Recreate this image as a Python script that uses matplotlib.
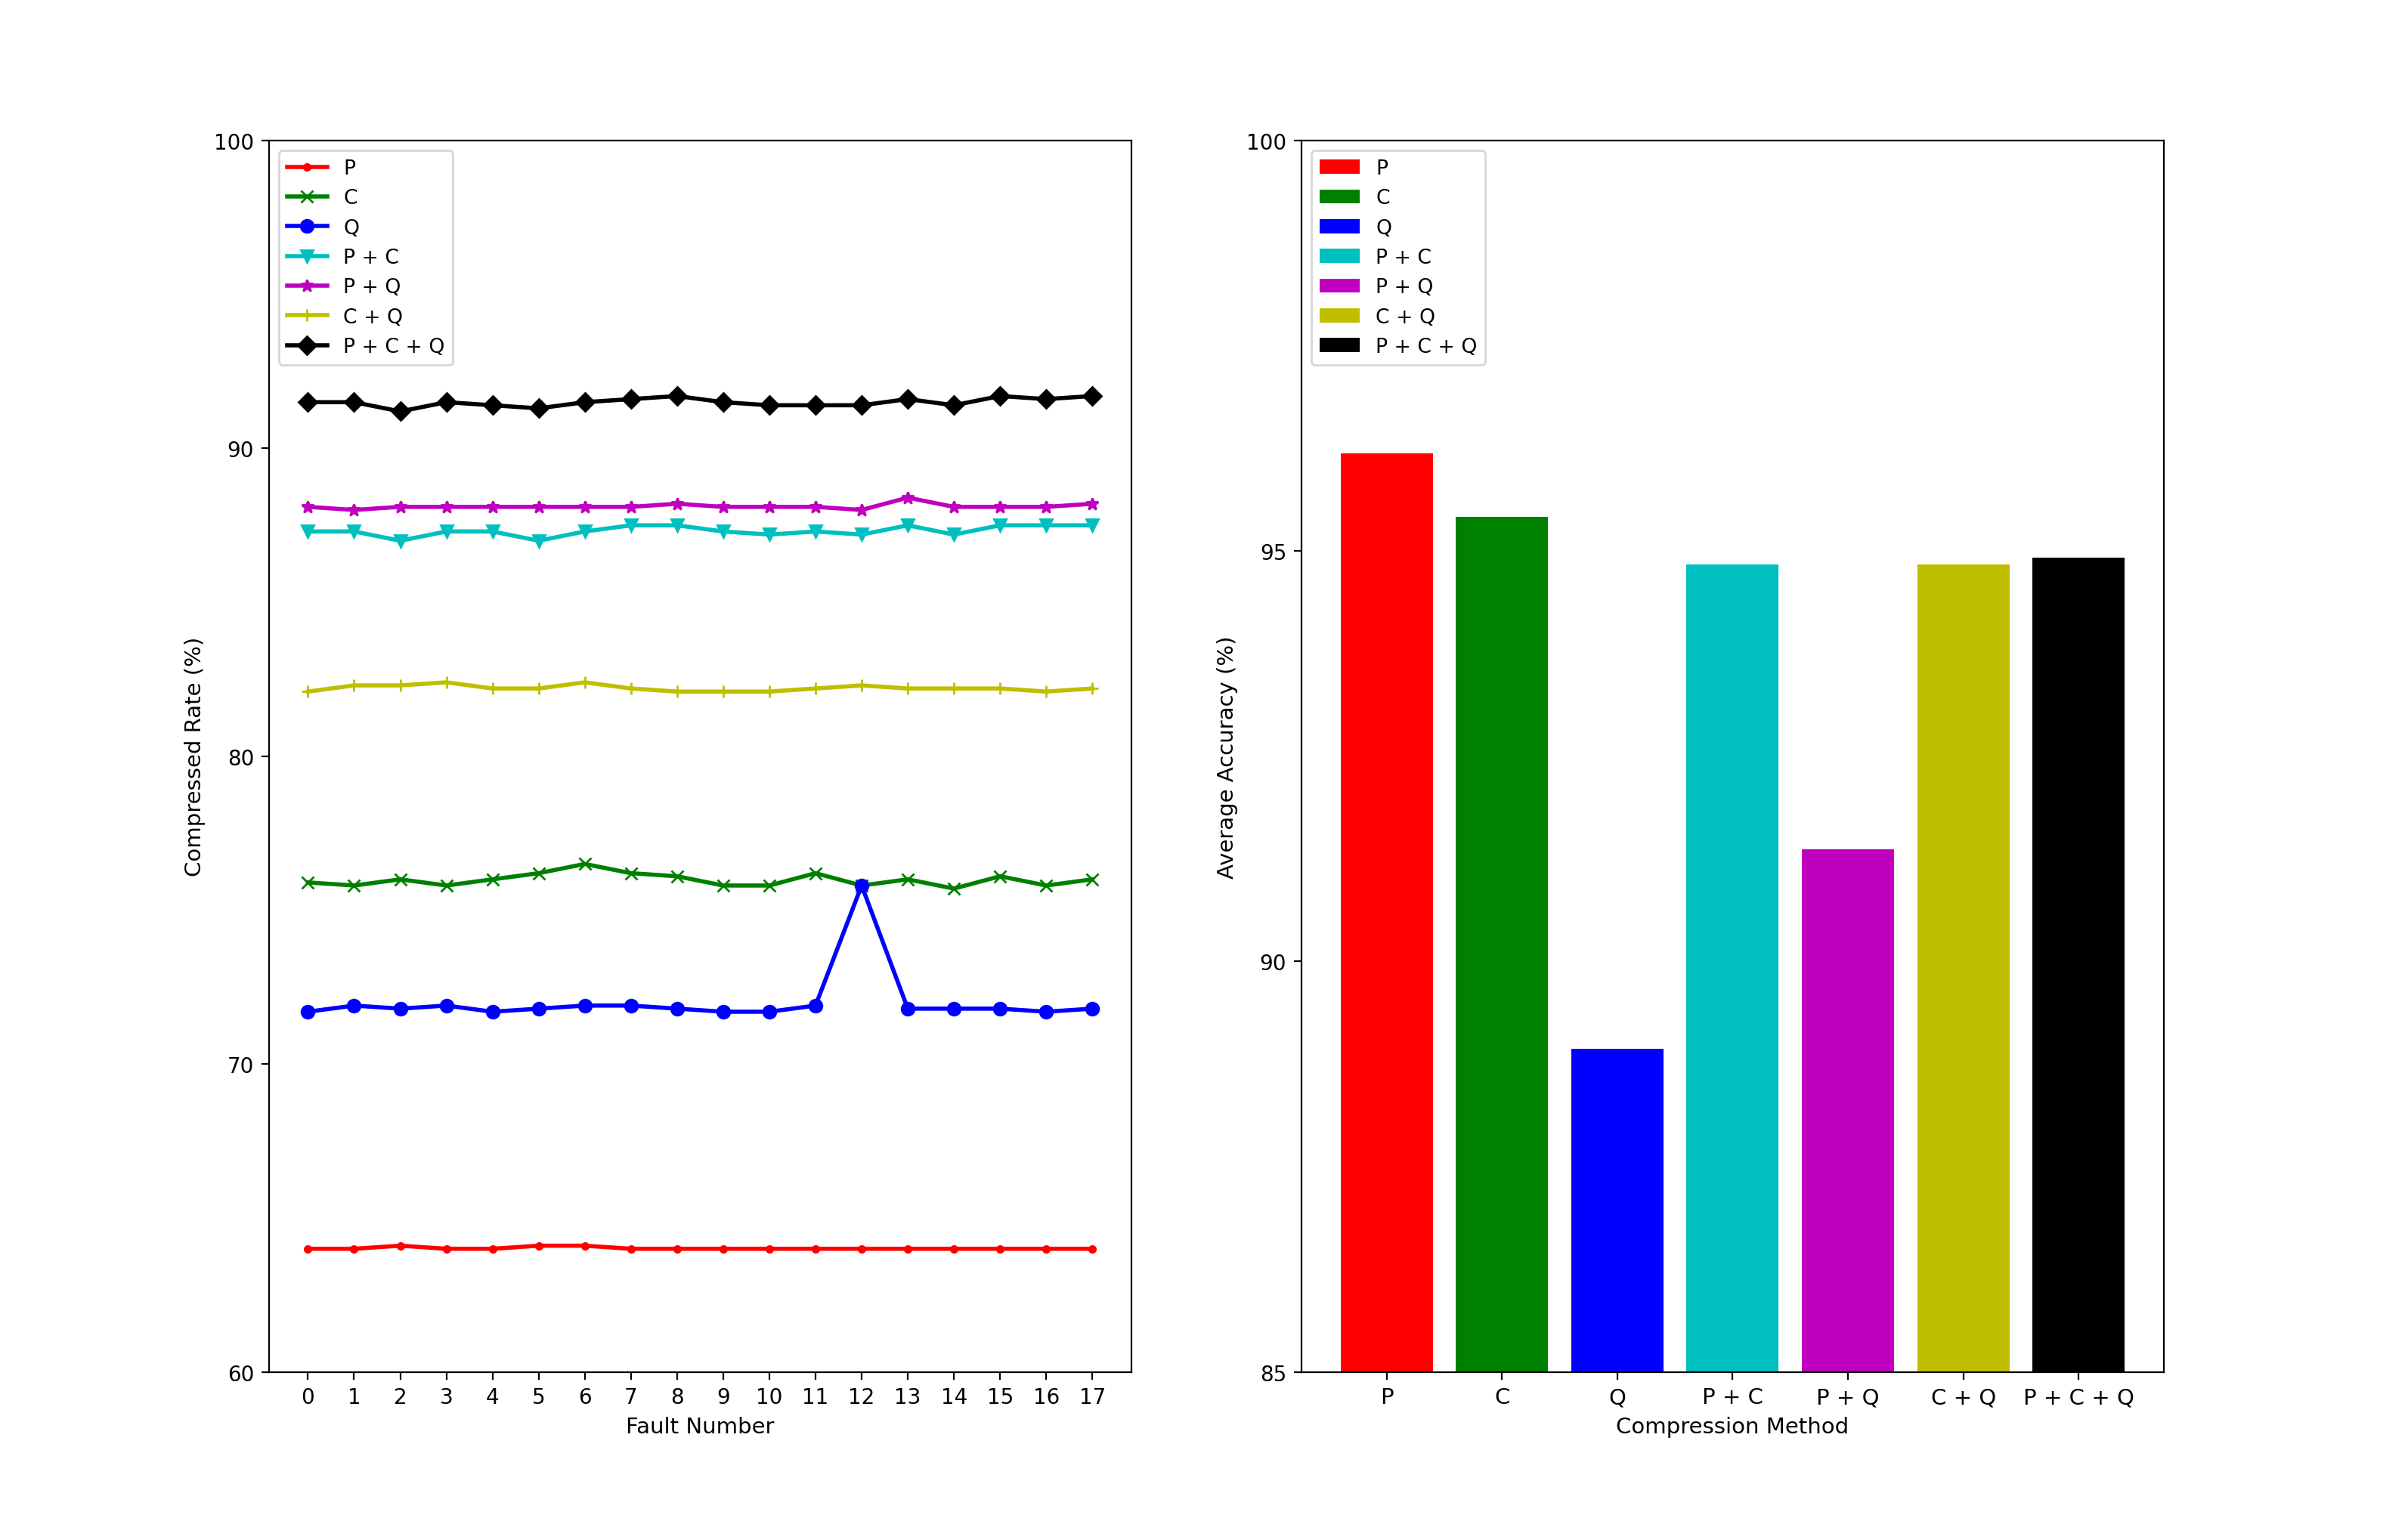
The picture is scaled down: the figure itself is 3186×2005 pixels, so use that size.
import numpy as np
import matplotlib
matplotlib.use('Agg')
import matplotlib.pyplot as plt

faults = list(range(18))

rate_p = [64.0, 64.0, 64.1, 64.0, 64.0, 64.1, 64.1, 64.0, 64.0, 64.0, 64.0, 64.0, 64.0, 64.0, 64.0, 64.0, 64.0, 64.0]
rate_c = [75.9, 75.8, 76.0, 75.8, 76.0, 76.2, 76.5, 76.2, 76.1, 75.8, 75.8, 76.2, 75.8, 76.0, 75.7, 76.1, 75.8, 76.0]
rate_q = [71.7, 71.9, 71.8, 71.9, 71.7, 71.8, 71.9, 71.9, 71.8, 71.7, 71.7, 71.9, 75.8, 71.8, 71.8, 71.8, 71.7, 71.8]
rate_pc = [87.3, 87.3, 87.0, 87.3, 87.3, 87.0, 87.3, 87.5, 87.5, 87.3, 87.2, 87.3, 87.2, 87.5, 87.2, 87.5, 87.5, 87.5]
rate_pq = [88.1, 88.0, 88.1, 88.1, 88.1, 88.1, 88.1, 88.1, 88.2, 88.1, 88.1, 88.1, 88.0, 88.4, 88.1, 88.1, 88.1, 88.2]
rate_cq = [82.1, 82.3, 82.3, 82.4, 82.2, 82.2, 82.4, 82.2, 82.1, 82.1, 82.1, 82.2, 82.3, 82.2, 82.2, 82.2, 82.1, 82.2]
rate_pcq = [91.5, 91.5, 91.2, 91.5, 91.4, 91.3, 91.5, 91.6, 91.7, 91.5, 91.4, 91.4, 91.4, 91.6, 91.4, 91.7, 91.6, 91.7]

methods = ['P', 'C', 'Q', 'P + C', 'P + Q', 'C + Q', 'P + C + Q']
accuracy = [96.19, 95.42, 88.94, 94.84, 91.37, 94.84, 94.92]

colors = ['r', 'g', 'b', 'c', 'm', 'y', 'k']
markers = ['.', 'x', 'o', 'v', '*', '+', 'D']

fig, (ax1, ax2) = plt.subplots(1, 2, figsize=(15.93, 10.03), dpi=200)
fig.subplots_adjust(left=0.1116, right=0.8987, bottom=0.0944, top=0.9068, wspace=0.1966)

series = [rate_p, rate_c, rate_q, rate_pc, rate_pq, rate_cq, rate_pcq]
for vals, name, col, mk in zip(series, methods, colors, markers):
  ax1.plot(faults, vals, color=col, marker=mk, linewidth=2, label=name)

ax1.set_ylim(60, 100)
ax1.set_yticks([60, 70, 80, 90, 100])
ax1.set_xticks(faults)
ax1.set_xlabel('Fault Number', fontsize=10.5)
ax1.set_ylabel('Compressed Rate (%)', fontsize=10.5)
ax1.legend(loc='upper left', fontsize=9.6)

x = np.arange(len(methods))
for i in range(len(methods)):
  ax2.bar(x[i], accuracy[i], color=colors[i], label=methods[i])

ax2.set_ylim(85, 100)
ax2.set_yticks([85, 90, 95, 100])
ax2.set_xticks(x)
ax2.set_xticklabels(methods, fontsize=10.5)
ax2.set_xlabel('Compression Method', fontsize=10.5)
ax2.set_ylabel('Average Accuracy (%)', fontsize=10.5)
ax2.legend(loc='upper left', fontsize=9.6)

plt.savefig('out.png')
plt.close(fig)
